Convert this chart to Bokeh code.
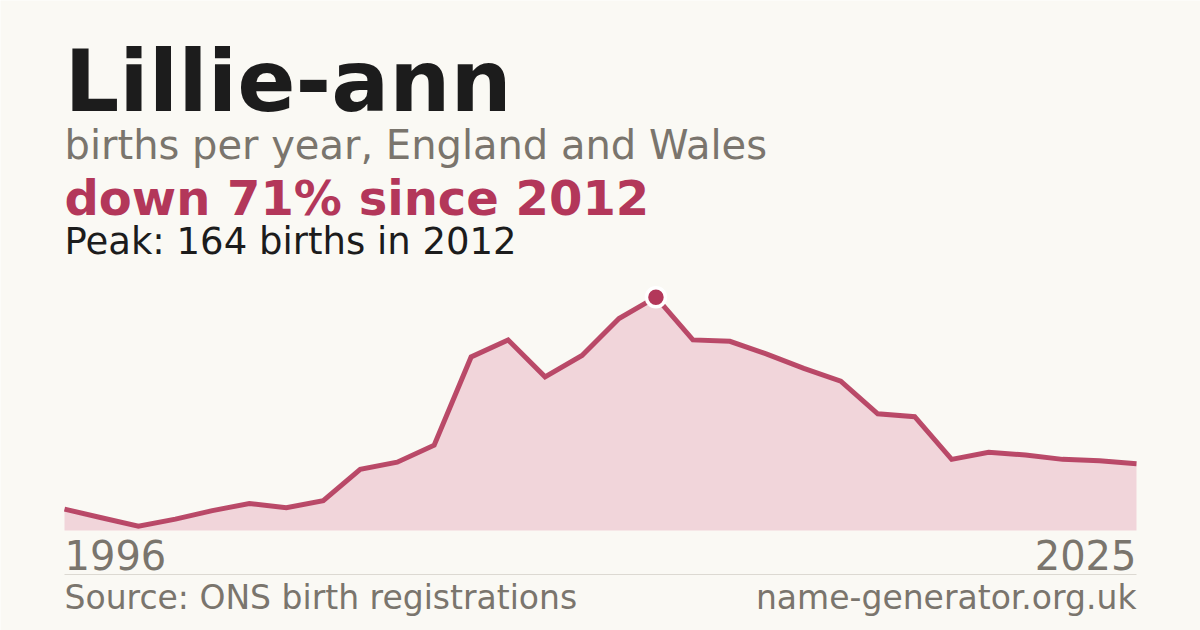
from bokeh.plotting import figure
from bokeh.models import Range1d, Label, BoxAnnotation, ColumnDataSource
from bokeh.embed import file_html
from bokeh.resources import INLINE

# ---- data ----
years = [1996, 1997, 1998, 1999, 2000, 2001, 2002, 2003, 2004, 2005,
         2006, 2007, 2008, 2009, 2010, 2011, 2012, 2013, 2014, 2015,
         2016, 2017, 2018, 2019, 2020, 2021, 2022, 2023, 2024, 2025]
births = [15, 9, 3, 8, 14, 19, 16, 21, 43, 48,
          60, 122, 134, 108, 123, 149, 164, 134, 133, 124,
          114, 105, 82, 80, 50, 55, 53, 50, 49, 47]
peak_year = [2012]
peak_value = [164]

title_text = "Lillie-ann"
subtitle_text = "births per year, England and Wales"
change_text = "down 71% since 2012"
peak_text = "Peak: 164 births in 2012"
first_label = "1996"
last_label = "2025"
source_text = "Source: ONS birth registrations"
site_text = "name-generator.org.uk"

# ---- style ----
BG = "#faf9f4"
ACCENT = "#b3375a"
FILL = "#f1d5da"
GREY = "#7a756d"
DARK = "#1c1c1c"
FONT = "DejaVu Sans"

W, H = 1200, 630
left_px, right_px = 64, 1136           # plot area in screen px
base_px, peak_px = 100, 333.3          # from bottom
BASE_SHIFT = 0.39                      # label anchor -> baseline offset (em)

n_int = years[-1] - years[0]
kx = (right_px - left_px) / n_int
ky = (peak_px - base_px) / max(births)

p = figure(width=W, height=H, output_backend="svg", toolbar_location=None,
           x_axis_location=None, y_axis_location=None,
           x_range=Range1d(years[0] - left_px / kx, years[-1] + (W - right_px) / kx),
           y_range=Range1d(-base_px / ky, (H - base_px) / ky),
           min_border=0, background_fill_color=BG, border_fill_color=BG,
           outline_line_color=None)
p.grid.visible = False

src = ColumnDataSource(dict(x=years, y=births, y0=[0] * len(years)))
p.varea(x="x", y1="y0", y2="y", source=src, fill_color=FILL)
p.line(x="x", y="y", source=src, line_color=ACCENT, line_width=5,
       line_alpha=0.9, line_join="miter")
p.scatter(x=peak_year, y=peak_value, marker="circle", size=19,
          fill_color=ACCENT, line_color="white", line_width=3.5)

def lab(text, x, baseline_from_top, size, color, bold=False, align="left"):
    y = (H - baseline_from_top) + BASE_SHIFT * size
    p.add_layout(Label(x=x, y=y, x_units="screen", y_units="screen", text=text,
                       text_font=FONT, text_font_size=f"{size}px",
                       text_font_style="bold" if bold else "normal",
                       text_color=color, text_align=align,
                       text_baseline="alphabetic"))

lab(title_text, left_px, 114, 86, DARK, bold=True)
lab(subtitle_text, left_px, 160, 40, GREY)
lab(change_text, left_px, 216, 48, ACCENT, bold=True)
lab(peak_text, left_px, 255, 37, DARK)
lab(first_label, left_px, 570, 40, GREY)
lab(last_label, right_px, 570, 40, GREY, align="right")
lab(source_text, left_px, 610, 33, GREY)
lab(site_text, right_px, 610, 33, GREY, align="right")

p.add_layout(BoxAnnotation(left=left_px, right=right_px, bottom=H - 574.5, top=H - 573.5,
                           left_units="screen", right_units="screen",
                           bottom_units="screen", top_units="screen",
                           fill_color="#dcd9d2", fill_alpha=1, line_color=None))

open("out.html", "w").write(file_html(p, INLINE))
